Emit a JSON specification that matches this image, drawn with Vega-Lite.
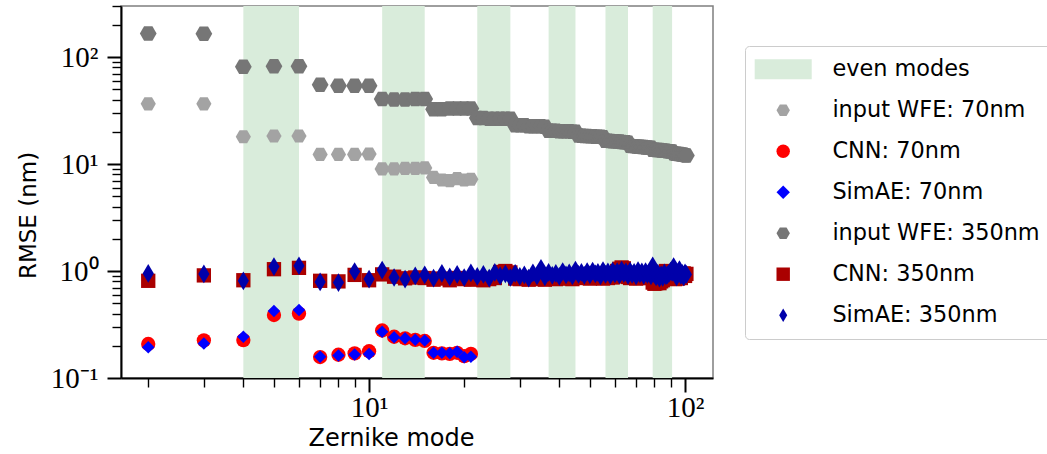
{
  "$schema": "https://vega.github.io/schema/vega-lite/v6.json",
  "width": 592,
  "height": 372,
  "autosize": "none",
  "padding": {"left": 121, "top": 6, "right": 334, "bottom": 76},
  "background": "white",
  "config": {
    "view": {"stroke": "#7f7f7f", "strokeWidth": 1.5},
    "axis": {"grid": false}
  },
  "datasets": {
    "bands": [
      {"start": 4, "end": 6, "s": "even modes"},
      {"start": 11, "end": 15, "s": "even modes"},
      {"start": 22, "end": 28, "s": "even modes"},
      {"start": 37, "end": 45, "s": "even modes"},
      {"start": 56, "end": 66, "s": "even modes"},
      {"start": 79, "end": 91, "s": "even modes"}
    ],
    "pts": [
      {"m":2,"v":36.5,"s":"input WFE: 70nm"},{"m":3,"v":36.5,"s":"input WFE: 70nm"},{"m":4,"v":18.0,"s":"input WFE: 70nm"},{"m":5,"v":18.3,"s":"input WFE: 70nm"},{"m":6,"v":18.3,"s":"input WFE: 70nm"},{"m":7,"v":12.3,"s":"input WFE: 70nm"},{"m":8,"v":12.3,"s":"input WFE: 70nm"},{"m":9,"v":12.3,"s":"input WFE: 70nm"},{"m":10,"v":12.4,"s":"input WFE: 70nm"},{"m":11,"v":9.0,"s":"input WFE: 70nm"},{"m":12,"v":9.0,"s":"input WFE: 70nm"},{"m":13,"v":9.1,"s":"input WFE: 70nm"},{"m":14,"v":9.1,"s":"input WFE: 70nm"},{"m":15,"v":9.2,"s":"input WFE: 70nm"},{"m":16,"v":7.5,"s":"input WFE: 70nm"},{"m":17,"v":7.1,"s":"input WFE: 70nm"},{"m":18,"v":7.0,"s":"input WFE: 70nm"},{"m":19,"v":7.3,"s":"input WFE: 70nm"},{"m":20,"v":7.1,"s":"input WFE: 70nm"},{"m":21,"v":7.2,"s":"input WFE: 70nm"},
      {"m":2,"v":0.208,"s":"CNN: 70nm"},{"m":3,"v":0.225,"s":"CNN: 70nm"},{"m":4,"v":0.226,"s":"CNN: 70nm"},{"m":5,"v":0.388,"s":"CNN: 70nm"},{"m":6,"v":0.40,"s":"CNN: 70nm"},{"m":7,"v":0.157,"s":"CNN: 70nm"},{"m":8,"v":0.165,"s":"CNN: 70nm"},{"m":9,"v":0.170,"s":"CNN: 70nm"},{"m":10,"v":0.178,"s":"CNN: 70nm"},{"m":11,"v":0.278,"s":"CNN: 70nm"},{"m":12,"v":0.243,"s":"CNN: 70nm"},{"m":13,"v":0.235,"s":"CNN: 70nm"},{"m":14,"v":0.227,"s":"CNN: 70nm"},{"m":15,"v":0.222,"s":"CNN: 70nm"},{"m":16,"v":0.172,"s":"CNN: 70nm"},{"m":17,"v":0.170,"s":"CNN: 70nm"},{"m":18,"v":0.168,"s":"CNN: 70nm"},{"m":19,"v":0.172,"s":"CNN: 70nm"},{"m":20,"v":0.160,"s":"CNN: 70nm"},{"m":21,"v":0.168,"s":"CNN: 70nm"},
      {"m":2,"v":0.194,"s":"SimAE: 70nm"},{"m":3,"v":0.21,"s":"SimAE: 70nm"},{"m":4,"v":0.243,"s":"SimAE: 70nm"},{"m":5,"v":0.423,"s":"SimAE: 70nm"},{"m":6,"v":0.432,"s":"SimAE: 70nm"},{"m":7,"v":0.158,"s":"SimAE: 70nm"},{"m":8,"v":0.162,"s":"SimAE: 70nm"},{"m":9,"v":0.166,"s":"SimAE: 70nm"},{"m":10,"v":0.168,"s":"SimAE: 70nm"},{"m":11,"v":0.27,"s":"SimAE: 70nm"},{"m":12,"v":0.24,"s":"SimAE: 70nm"},{"m":13,"v":0.235,"s":"SimAE: 70nm"},{"m":14,"v":0.228,"s":"SimAE: 70nm"},{"m":15,"v":0.224,"s":"SimAE: 70nm"},{"m":16,"v":0.172,"s":"SimAE: 70nm"},{"m":17,"v":0.172,"s":"SimAE: 70nm"},{"m":18,"v":0.17,"s":"SimAE: 70nm"},{"m":19,"v":0.176,"s":"SimAE: 70nm"},{"m":20,"v":0.156,"s":"SimAE: 70nm"},{"m":21,"v":0.158,"s":"SimAE: 70nm"},
      {"m":2,"v":166,"s":"input WFE: 350nm"},{"m":3,"v":165,"s":"input WFE: 350nm"},{"m":4,"v":81,"s":"input WFE: 350nm"},{"m":5,"v":82,"s":"input WFE: 350nm"},{"m":6,"v":82,"s":"input WFE: 350nm"},{"m":7,"v":55,"s":"input WFE: 350nm"},{"m":8,"v":54,"s":"input WFE: 350nm"},{"m":9,"v":54,"s":"input WFE: 350nm"},{"m":10,"v":54,"s":"input WFE: 350nm"},{"m":11,"v":40.5,"s":"input WFE: 350nm"},{"m":12,"v":40,"s":"input WFE: 350nm"},{"m":13,"v":40,"s":"input WFE: 350nm"},{"m":14,"v":40.5,"s":"input WFE: 350nm"},{"m":15,"v":40.5,"s":"input WFE: 350nm"},{"m":16,"v":32.5,"s":"input WFE: 350nm"},{"m":17,"v":32.5,"s":"input WFE: 350nm"},{"m":18,"v":33,"s":"input WFE: 350nm"},{"m":19,"v":33,"s":"input WFE: 350nm"},{"m":20,"v":33,"s":"input WFE: 350nm"},{"m":21,"v":33,"s":"input WFE: 350nm"},{"m":22,"v":27,"s":"input WFE: 350nm"},{"m":23,"v":27,"s":"input WFE: 350nm"},{"m":24,"v":26.5,"s":"input WFE: 350nm"},{"m":25,"v":26.5,"s":"input WFE: 350nm"},{"m":26,"v":26.5,"s":"input WFE: 350nm"},{"m":27,"v":26.5,"s":"input WFE: 350nm"},{"m":28,"v":26.5,"s":"input WFE: 350nm"},{"m":29,"v":23,"s":"input WFE: 350nm"},{"m":30,"v":23,"s":"input WFE: 350nm"},{"m":31,"v":23,"s":"input WFE: 350nm"},{"m":32,"v":22.5,"s":"input WFE: 350nm"},{"m":33,"v":22.5,"s":"input WFE: 350nm"},{"m":34,"v":22.5,"s":"input WFE: 350nm"},{"m":35,"v":22.5,"s":"input WFE: 350nm"},{"m":36,"v":22.3,"s":"input WFE: 350nm"},{"m":37,"v":20.5,"s":"input WFE: 350nm"},{"m":38,"v":20.5,"s":"input WFE: 350nm"},{"m":39,"v":20.5,"s":"input WFE: 350nm"},{"m":40,"v":20.3,"s":"input WFE: 350nm"},{"m":41,"v":20.3,"s":"input WFE: 350nm"},{"m":42,"v":20.3,"s":"input WFE: 350nm"},{"m":43,"v":20.3,"s":"input WFE: 350nm"},{"m":44,"v":20,"s":"input WFE: 350nm"},{"m":45,"v":20,"s":"input WFE: 350nm"},{"m":46,"v":18.5,"s":"input WFE: 350nm"},{"m":47,"v":18.4,"s":"input WFE: 350nm"},{"m":48,"v":18.3,"s":"input WFE: 350nm"},{"m":49,"v":18.3,"s":"input WFE: 350nm"},{"m":50,"v":18.2,"s":"input WFE: 350nm"},{"m":51,"v":18.2,"s":"input WFE: 350nm"},{"m":52,"v":18,"s":"input WFE: 350nm"},{"m":53,"v":18,"s":"input WFE: 350nm"},{"m":54,"v":18,"s":"input WFE: 350nm"},{"m":55,"v":17.8,"s":"input WFE: 350nm"},{"m":56,"v":16.5,"s":"input WFE: 350nm"},{"m":57,"v":16.5,"s":"input WFE: 350nm"},{"m":58,"v":16.4,"s":"input WFE: 350nm"},{"m":59,"v":16.3,"s":"input WFE: 350nm"},{"m":60,"v":16.3,"s":"input WFE: 350nm"},{"m":61,"v":16.2,"s":"input WFE: 350nm"},{"m":62,"v":16.2,"s":"input WFE: 350nm"},{"m":63,"v":16.1,"s":"input WFE: 350nm"},{"m":64,"v":16,"s":"input WFE: 350nm"},{"m":65,"v":16,"s":"input WFE: 350nm"},{"m":66,"v":15.8,"s":"input WFE: 350nm"},{"m":67,"v":14.8,"s":"input WFE: 350nm"},{"m":68,"v":14.7,"s":"input WFE: 350nm"},{"m":69,"v":14.7,"s":"input WFE: 350nm"},{"m":70,"v":14.6,"s":"input WFE: 350nm"},{"m":71,"v":14.5,"s":"input WFE: 350nm"},{"m":72,"v":14.5,"s":"input WFE: 350nm"},{"m":73,"v":14.4,"s":"input WFE: 350nm"},{"m":74,"v":14.4,"s":"input WFE: 350nm"},{"m":75,"v":14.3,"s":"input WFE: 350nm"},{"m":76,"v":14.3,"s":"input WFE: 350nm"},{"m":77,"v":14.2,"s":"input WFE: 350nm"},{"m":78,"v":14.2,"s":"input WFE: 350nm"},{"m":79,"v":13.6,"s":"input WFE: 350nm"},{"m":80,"v":13.6,"s":"input WFE: 350nm"},{"m":81,"v":13.5,"s":"input WFE: 350nm"},{"m":82,"v":13.5,"s":"input WFE: 350nm"},{"m":83,"v":13.5,"s":"input WFE: 350nm"},{"m":84,"v":13.4,"s":"input WFE: 350nm"},{"m":85,"v":13.4,"s":"input WFE: 350nm"},{"m":86,"v":13.3,"s":"input WFE: 350nm"},{"m":87,"v":13.3,"s":"input WFE: 350nm"},{"m":88,"v":13.2,"s":"input WFE: 350nm"},{"m":89,"v":13.2,"s":"input WFE: 350nm"},{"m":90,"v":13.1,"s":"input WFE: 350nm"},{"m":91,"v":13.1,"s":"input WFE: 350nm"},{"m":92,"v":12.6,"s":"input WFE: 350nm"},{"m":93,"v":12.5,"s":"input WFE: 350nm"},{"m":94,"v":12.5,"s":"input WFE: 350nm"},{"m":95,"v":12.4,"s":"input WFE: 350nm"},{"m":96,"v":12.4,"s":"input WFE: 350nm"},{"m":97,"v":12.3,"s":"input WFE: 350nm"},{"m":98,"v":12.3,"s":"input WFE: 350nm"},{"m":99,"v":12.2,"s":"input WFE: 350nm"},{"m":100,"v":12.1,"s":"input WFE: 350nm"},{"m":101,"v":12.0,"s":"input WFE: 350nm"},
      {"m":2,"v":0.81,"s":"CNN: 350nm"},{"m":3,"v":0.91,"s":"CNN: 350nm"},{"m":4,"v":0.82,"s":"CNN: 350nm"},{"m":5,"v":1.04,"s":"CNN: 350nm"},{"m":6,"v":1.07,"s":"CNN: 350nm"},{"m":7,"v":0.81,"s":"CNN: 350nm"},{"m":8,"v":0.80,"s":"CNN: 350nm"},{"m":9,"v":0.92,"s":"CNN: 350nm"},{"m":10,"v":0.82,"s":"CNN: 350nm"},{"m":11,"v":0.93,"s":"CNN: 350nm"},{"m":12,"v":0.885,"s":"CNN: 350nm"},{"m":13,"v":0.855,"s":"CNN: 350nm"},{"m":14,"v":0.87,"s":"CNN: 350nm"},{"m":15,"v":0.86,"s":"CNN: 350nm"},{"m":16,"v":0.83,"s":"CNN: 350nm"},{"m":17,"v":0.85,"s":"CNN: 350nm"},{"m":18,"v":0.82,"s":"CNN: 350nm"},{"m":19,"v":0.86,"s":"CNN: 350nm"},{"m":20,"v":0.84,"s":"CNN: 350nm"},{"m":21,"v":0.83,"s":"CNN: 350nm"},{"m":22,"v":0.85,"s":"CNN: 350nm"},{"m":23,"v":0.82,"s":"CNN: 350nm"},{"m":24,"v":0.84,"s":"CNN: 350nm"},{"m":25,"v":0.86,"s":"CNN: 350nm"},{"m":26,"v":0.98,"s":"CNN: 350nm"},{"m":27,"v":1.0,"s":"CNN: 350nm"},{"m":28,"v":0.97,"s":"CNN: 350nm"},{"m":29,"v":0.85,"s":"CNN: 350nm"},{"m":30,"v":0.84,"s":"CNN: 350nm"},{"m":31,"v":0.86,"s":"CNN: 350nm"},{"m":32,"v":0.83,"s":"CNN: 350nm"},{"m":33,"v":0.85,"s":"CNN: 350nm"},{"m":34,"v":0.84,"s":"CNN: 350nm"},{"m":35,"v":0.86,"s":"CNN: 350nm"},{"m":36,"v":0.83,"s":"CNN: 350nm"},{"m":37,"v":0.85,"s":"CNN: 350nm"},{"m":38,"v":0.87,"s":"CNN: 350nm"},{"m":39,"v":0.84,"s":"CNN: 350nm"},{"m":40,"v":0.86,"s":"CNN: 350nm"},{"m":41,"v":0.85,"s":"CNN: 350nm"},{"m":42,"v":0.88,"s":"CNN: 350nm"},{"m":43,"v":0.86,"s":"CNN: 350nm"},{"m":44,"v":0.84,"s":"CNN: 350nm"},{"m":45,"v":0.87,"s":"CNN: 350nm"},{"m":46,"v":0.88,"s":"CNN: 350nm"},{"m":47,"v":0.86,"s":"CNN: 350nm"},{"m":48,"v":0.89,"s":"CNN: 350nm"},{"m":49,"v":0.87,"s":"CNN: 350nm"},{"m":50,"v":0.85,"s":"CNN: 350nm"},{"m":51,"v":0.88,"s":"CNN: 350nm"},{"m":52,"v":0.86,"s":"CNN: 350nm"},{"m":53,"v":0.89,"s":"CNN: 350nm"},{"m":54,"v":0.87,"s":"CNN: 350nm"},{"m":55,"v":0.85,"s":"CNN: 350nm"},{"m":56,"v":0.88,"s":"CNN: 350nm"},{"m":57,"v":0.86,"s":"CNN: 350nm"},{"m":58,"v":0.9,"s":"CNN: 350nm"},{"m":59,"v":0.87,"s":"CNN: 350nm"},{"m":60,"v":0.89,"s":"CNN: 350nm"},{"m":61,"v":1.0,"s":"CNN: 350nm"},{"m":62,"v":1.05,"s":"CNN: 350nm"},{"m":63,"v":1.08,"s":"CNN: 350nm"},{"m":64,"v":1.06,"s":"CNN: 350nm"},{"m":65,"v":0.92,"s":"CNN: 350nm"},{"m":66,"v":0.88,"s":"CNN: 350nm"},{"m":67,"v":0.86,"s":"CNN: 350nm"},{"m":68,"v":0.88,"s":"CNN: 350nm"},{"m":69,"v":0.87,"s":"CNN: 350nm"},{"m":70,"v":0.85,"s":"CNN: 350nm"},{"m":71,"v":0.9,"s":"CNN: 350nm"},{"m":72,"v":0.86,"s":"CNN: 350nm"},{"m":73,"v":0.88,"s":"CNN: 350nm"},{"m":74,"v":0.87,"s":"CNN: 350nm"},{"m":75,"v":0.89,"s":"CNN: 350nm"},{"m":76,"v":0.86,"s":"CNN: 350nm"},{"m":77,"v":0.88,"s":"CNN: 350nm"},{"m":78,"v":0.87,"s":"CNN: 350nm"},{"m":79,"v":0.78,"s":"CNN: 350nm"},{"m":80,"v":0.76,"s":"CNN: 350nm"},{"m":81,"v":0.77,"s":"CNN: 350nm"},{"m":82,"v":0.79,"s":"CNN: 350nm"},{"m":83,"v":0.77,"s":"CNN: 350nm"},{"m":84,"v":0.8,"s":"CNN: 350nm"},{"m":85,"v":0.82,"s":"CNN: 350nm"},{"m":86,"v":0.95,"s":"CNN: 350nm"},{"m":87,"v":1.0,"s":"CNN: 350nm"},{"m":88,"v":0.9,"s":"CNN: 350nm"},{"m":89,"v":0.87,"s":"CNN: 350nm"},{"m":90,"v":0.85,"s":"CNN: 350nm"},{"m":91,"v":0.88,"s":"CNN: 350nm"},{"m":92,"v":0.86,"s":"CNN: 350nm"},{"m":93,"v":0.84,"s":"CNN: 350nm"},{"m":94,"v":0.87,"s":"CNN: 350nm"},{"m":95,"v":0.85,"s":"CNN: 350nm"},{"m":96,"v":0.88,"s":"CNN: 350nm"},{"m":97,"v":0.86,"s":"CNN: 350nm"},{"m":98,"v":0.92,"s":"CNN: 350nm"},{"m":99,"v":0.95,"s":"CNN: 350nm"},{"m":100,"v":0.9,"s":"CNN: 350nm"},{"m":101,"v":0.94,"s":"CNN: 350nm"},
      {"m":2,"v":0.95,"s":"SimAE: 350nm"},{"m":3,"v":0.94,"s":"SimAE: 350nm"},{"m":4,"v":0.81,"s":"SimAE: 350nm"},{"m":5,"v":1.10,"s":"SimAE: 350nm"},{"m":6,"v":1.12,"s":"SimAE: 350nm"},{"m":7,"v":0.79,"s":"SimAE: 350nm"},{"m":8,"v":0.78,"s":"SimAE: 350nm"},{"m":9,"v":0.99,"s":"SimAE: 350nm"},{"m":10,"v":0.84,"s":"SimAE: 350nm"},{"m":11,"v":1.02,"s":"SimAE: 350nm"},{"m":12,"v":0.87,"s":"SimAE: 350nm"},{"m":13,"v":0.84,"s":"SimAE: 350nm"},{"m":14,"v":0.90,"s":"SimAE: 350nm"},{"m":15,"v":0.92,"s":"SimAE: 350nm"},{"m":16,"v":0.86,"s":"SimAE: 350nm"},{"m":17,"v":0.95,"s":"SimAE: 350nm"},{"m":18,"v":0.88,"s":"SimAE: 350nm"},{"m":19,"v":0.93,"s":"SimAE: 350nm"},{"m":20,"v":0.87,"s":"SimAE: 350nm"},{"m":21,"v":0.96,"s":"SimAE: 350nm"},{"m":22,"v":0.89,"s":"SimAE: 350nm"},{"m":23,"v":0.93,"s":"SimAE: 350nm"},{"m":24,"v":0.86,"s":"SimAE: 350nm"},{"m":25,"v":0.97,"s":"SimAE: 350nm"},{"m":26,"v":0.9,"s":"SimAE: 350nm"},{"m":27,"v":0.94,"s":"SimAE: 350nm"},{"m":28,"v":0.87,"s":"SimAE: 350nm"},{"m":29,"v":0.95,"s":"SimAE: 350nm"},{"m":30,"v":0.89,"s":"SimAE: 350nm"},{"m":31,"v":0.92,"s":"SimAE: 350nm"},{"m":32,"v":0.86,"s":"SimAE: 350nm"},{"m":33,"v":0.96,"s":"SimAE: 350nm"},{"m":34,"v":0.9,"s":"SimAE: 350nm"},{"m":35,"v":1.06,"s":"SimAE: 350nm"},{"m":36,"v":0.88,"s":"SimAE: 350nm"},{"m":37,"v":0.97,"s":"SimAE: 350nm"},{"m":38,"v":0.91,"s":"SimAE: 350nm"},{"m":39,"v":0.95,"s":"SimAE: 350nm"},{"m":40,"v":0.89,"s":"SimAE: 350nm"},{"m":41,"v":0.99,"s":"SimAE: 350nm"},{"m":42,"v":0.92,"s":"SimAE: 350nm"},{"m":43,"v":0.96,"s":"SimAE: 350nm"},{"m":44,"v":0.9,"s":"SimAE: 350nm"},{"m":45,"v":1.02,"s":"SimAE: 350nm"},{"m":46,"v":0.93,"s":"SimAE: 350nm"},{"m":47,"v":0.97,"s":"SimAE: 350nm"},{"m":48,"v":0.91,"s":"SimAE: 350nm"},{"m":49,"v":0.99,"s":"SimAE: 350nm"},{"m":50,"v":0.92,"s":"SimAE: 350nm"},{"m":51,"v":1.0,"s":"SimAE: 350nm"},{"m":52,"v":0.94,"s":"SimAE: 350nm"},{"m":53,"v":0.97,"s":"SimAE: 350nm"},{"m":54,"v":0.9,"s":"SimAE: 350nm"},{"m":55,"v":1.01,"s":"SimAE: 350nm"},{"m":56,"v":0.93,"s":"SimAE: 350nm"},{"m":57,"v":0.98,"s":"SimAE: 350nm"},{"m":58,"v":0.91,"s":"SimAE: 350nm"},{"m":59,"v":1.0,"s":"SimAE: 350nm"},{"m":60,"v":0.94,"s":"SimAE: 350nm"},{"m":61,"v":0.99,"s":"SimAE: 350nm"},{"m":62,"v":0.92,"s":"SimAE: 350nm"},{"m":63,"v":1.02,"s":"SimAE: 350nm"},{"m":64,"v":0.95,"s":"SimAE: 350nm"},{"m":65,"v":0.98,"s":"SimAE: 350nm"},{"m":66,"v":0.91,"s":"SimAE: 350nm"},{"m":67,"v":1.0,"s":"SimAE: 350nm"},{"m":68,"v":0.93,"s":"SimAE: 350nm"},{"m":69,"v":0.97,"s":"SimAE: 350nm"},{"m":70,"v":0.9,"s":"SimAE: 350nm"},{"m":71,"v":1.01,"s":"SimAE: 350nm"},{"m":72,"v":0.94,"s":"SimAE: 350nm"},{"m":73,"v":0.98,"s":"SimAE: 350nm"},{"m":74,"v":0.91,"s":"SimAE: 350nm"},{"m":75,"v":0.99,"s":"SimAE: 350nm"},{"m":76,"v":0.93,"s":"SimAE: 350nm"},{"m":77,"v":0.96,"s":"SimAE: 350nm"},{"m":78,"v":0.9,"s":"SimAE: 350nm"},{"m":79,"v":1.12,"s":"SimAE: 350nm"},{"m":80,"v":0.93,"s":"SimAE: 350nm"},{"m":81,"v":0.88,"s":"SimAE: 350nm"},{"m":82,"v":0.95,"s":"SimAE: 350nm"},{"m":83,"v":0.86,"s":"SimAE: 350nm"},{"m":84,"v":0.92,"s":"SimAE: 350nm"},{"m":85,"v":0.87,"s":"SimAE: 350nm"},{"m":86,"v":0.96,"s":"SimAE: 350nm"},{"m":87,"v":0.9,"s":"SimAE: 350nm"},{"m":88,"v":0.92,"s":"SimAE: 350nm"},{"m":89,"v":0.95,"s":"SimAE: 350nm"},{"m":90,"v":1.0,"s":"SimAE: 350nm"},{"m":91,"v":0.97,"s":"SimAE: 350nm"},{"m":92,"v":1.1,"s":"SimAE: 350nm"},{"m":93,"v":0.95,"s":"SimAE: 350nm"},{"m":94,"v":0.88,"s":"SimAE: 350nm"},{"m":95,"v":0.97,"s":"SimAE: 350nm"},{"m":96,"v":1.03,"s":"SimAE: 350nm"},{"m":97,"v":0.91,"s":"SimAE: 350nm"},{"m":98,"v":0.95,"s":"SimAE: 350nm"},{"m":99,"v":0.88,"s":"SimAE: 350nm"},{"m":100,"v":0.96,"s":"SimAE: 350nm"},{"m":101,"v":0.93,"s":"SimAE: 350nm"}
    ]
  },
  "resolve": {"axis": {"x": "independent", "y": "independent"}},
  "layer": [
    {
      "data": {"name": "bands"},
      "mark": {"type": "rect"},
      "encoding": {
        "x": {"field": "start", "type": "quantitative",
          "scale": {"type": "log", "domain": [1.64, 122.6], "nice": false, "zero": false},
          "axis": {"orient": "bottom", "values": [10, 100], "labelExpr": "datum.value < 50 ? '10¹' : '10²'",
            "tickSize": 14, "tickWidth": 2, "tickColor": "black", "domainColor": "black", "domainWidth": 2,
            "labelFont": "Liberation Serif", "labelFontSize": 29, "labelColor": "black", "labelPadding": 1,
            "title": "Zernike mode", "titleFont": "DejaVu Sans", "titleFontSize": 24, "titleFontWeight": "normal", "titleColor": "black",
            "titleX": 270, "titleY": 60, "titleBaseline": "middle", "titleAnchor": "middle", "titleAlign": "center"}},
        "x2": {"field": "end"},
        "color": {"field": "s", "type": "nominal",
          "scale": {"domain": ["even modes", "input WFE: 70nm", "CNN: 70nm", "SimAE: 70nm", "input WFE: 350nm", "CNN: 350nm", "SimAE: 350nm"],
                    "range": ["#d9ecdb", "#a3a3a3", "#ff0000", "#0000ff", "#767676", "#aa0000", "#0000aa"]},
          "legend": {"title": null, "orient": "none", "legendX": 624, "legendY": 40, "labelFont": "DejaVu Sans", "labelFontSize": 22.4, "labelColor": "black", "labelLimit": 400,
            "symbolSize": 180, "symbolStrokeWidth": 0, "symbolOpacity": 1, "padding": 12, "strokeColor": "#cccccc", "fillColor": "white", "cornerRadius": 4,
            "rowPadding": 18, "symbolOffset": 15, "labelOffset": 38}}
      }
    },
    {
      "data": {"name": "pts"},
      "mark": {"type": "point", "filled": true, "opacity": 1, "strokeWidth": 0},
      "encoding": {
        "x": {"field": "m", "type": "quantitative", "axis": null},
        "y": {"field": "v", "type": "quantitative",
          "scale": {"type": "log", "domain": [0.1, 300], "nice": false, "zero": false},
          "axis": {"orient": "left", "values": [0.1, 1, 10, 100], "labelExpr": "datum.value < 0.5 ? '10⁻¹' : datum.value < 5 ? '10⁰' : datum.value < 50 ? '10¹' : '10²'",
            "tickSize": 14, "tickWidth": 2, "tickColor": "black", "domainColor": "black", "domainWidth": 2,
            "labelFont": "Liberation Serif", "labelFontSize": 29, "labelColor": "black", "labelPadding": 9,
            "title": "RMSE (nm)", "titleFont": "DejaVu Sans", "titleFontSize": 23, "titleFontWeight": "normal", "titleColor": "black",
            "titleX": -93, "titleY": 209, "titleAngle": -90, "titleBaseline": "middle", "titleAnchor": "middle", "titleAlign": "center"}},
        "color": {"field": "s", "type": "nominal"},
        "shape": {"field": "s", "type": "nominal",
          "scale": {"domain": ["even modes", "input WFE: 70nm", "CNN: 70nm", "SimAE: 70nm", "input WFE: 350nm", "CNN: 350nm", "SimAE: 350nm"],
                    "range": ["M-4.25,-1.5L4.25,-1.5L4.25,1.5L-4.25,1.5Z", "M-1,0L-0.5,-0.866L0.5,-0.866L1,0L0.5,0.866L-0.5,0.866Z", "circle", "diamond", "M-1,0L-0.5,-0.866L0.5,-0.866L1,0L0.5,0.866L-0.5,0.866Z", "square", "M0,-1L0.6,0L0,1L-0.6,0Z"]},
          "legend": {"title": null, "orient": "none", "legendX": 624, "legendY": 40, "labelFont": "DejaVu Sans", "labelFontSize": 22.4, "labelColor": "black", "labelLimit": 400,
            "symbolSize": 180, "symbolStrokeWidth": 0, "symbolOpacity": 1, "padding": 12, "strokeColor": "#cccccc", "fillColor": "white", "cornerRadius": 4,
            "rowPadding": 18, "symbolOffset": 15, "labelOffset": 38}},
        "size": {"condition": [
            {"test": "datum.s === 'input WFE: 70nm'", "value": 230},
            {"test": "datum.s === 'input WFE: 350nm'", "value": 280},
            {"test": "datum.s === 'SimAE: 70nm'", "value": 156},
            {"test": "datum.s === 'SimAE: 350nm'", "value": 350}],
          "value": 205}
      }
    },
    {
      "data": {"name": "pts"},
      "mark": {"type": "point", "opacity": 0},
      "encoding": {
        "x": {"field": "m", "type": "quantitative",
          "axis": {"orient": "bottom", "values": [2, 3, 4, 5, 6, 7, 8, 9, 20, 30, 40, 50, 60, 70, 80, 90], "labels": false, "domain": false,
            "tickSize": 9, "tickWidth": 1.4, "tickColor": "black", "title": null}},
        "y": {"field": "v", "type": "quantitative",
          "axis": {"orient": "left", "values": [0.2, 0.3, 0.4, 0.5, 0.6, 0.7, 0.8, 0.9, 2, 3, 4, 5, 6, 7, 8, 9, 20, 30, 40, 50, 60, 70, 80, 90, 200, 300], "labels": false, "domain": false,
            "tickSize": 9, "tickWidth": 1.4, "tickColor": "black", "title": null}}
      }
    }
  ]
}
